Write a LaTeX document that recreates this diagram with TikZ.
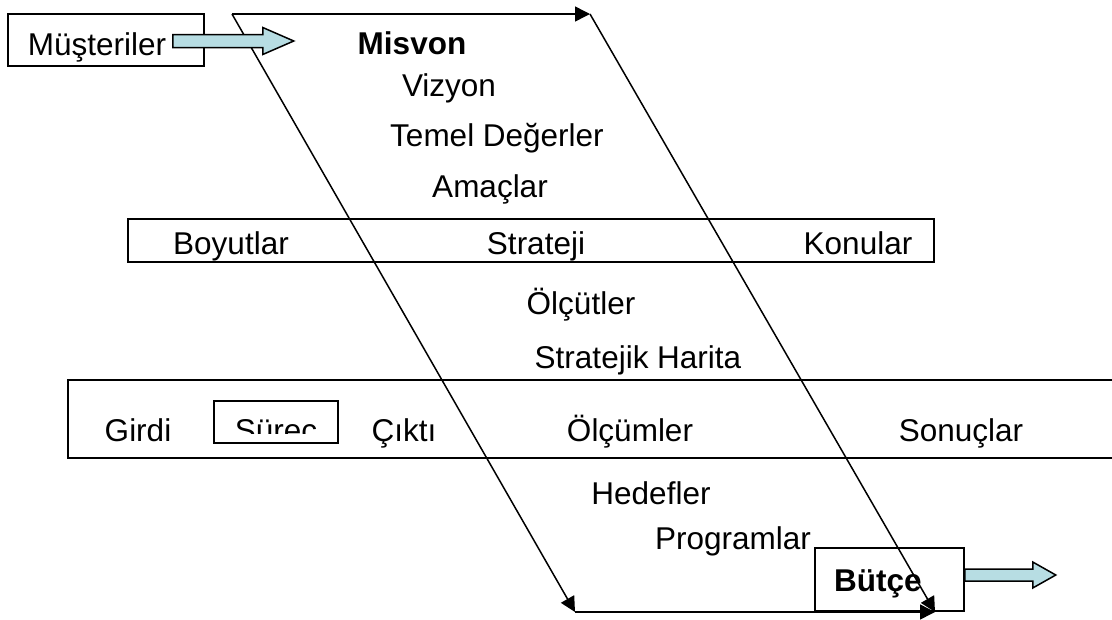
\documentclass[tikz,border=0pt]{standalone}
\usepackage{fontspec}
\setmainfont{Liberation Sans}
\usetikzlibrary{arrows.meta}
\definecolor{fatcyan}{RGB}{183,221,227}
\tikzset{
  frame/.style={draw, line width=1.5pt, inner sep=0pt},
  lbl/.style={anchor=base, inner sep=0pt},
  flow/.style={line width=1.5pt, -{Triangle[length=15pt,width=15pt]}},
  fat/.style={draw, line width=1.5pt, fill=fatcyan},
}
\begin{document}
\begin{tikzpicture}[x=1pt, y=-1pt, font=\fontsize{31.5}{38}\selectfont]
\useasboundingbox (0,0) rectangle (1112,619);
% corners of the slanted frame
\coordinate (tl) at (232,14);
\coordinate (tr) at (590,14);
\coordinate (bl) at (575,612);
\coordinate (br) at (935,612);
% boxes
\node[frame, minimum width=196pt, minimum height=52pt] (musteri) at (106,40) {};
\node[frame, minimum width=806pt, minimum height=43pt] (strbox) at (531,240.5) {};
\node[frame, minimum width=1062pt, minimum height=78pt] (olcbox) at (599,419) {};
\node[frame, minimum width=124pt, minimum height=42pt] (surec) at (276,422) {};
\node[frame, minimum width=149pt, minimum height=63pt] (butce) at (889.5,579.5) {};
% texts
\node[lbl] (tmus) at (97,55) {Müşteriler};
\node[lbl, font=\fontsize{31.5}{38}\selectfont\bfseries] (tmis) at (412,54) {Misvon};
\node[lbl] (tviz) at (449,96) {Vizyon};
\node[lbl] (ttem) at (497,146) {Temel Değerler};
\node[lbl] (tama) at (490,197) {Amaçlar};
\node[lbl] (tboy) at (231,254) {Boyutlar};
\node[lbl] (tstr) at (536,254) {Strateji};
\node[lbl] (tkon) at (858,254) {Konular};
\node[lbl] (tolt) at (581,314) {Ölçütler};
\node[lbl] (thar) at (638,368) {Stratejik Harita};
\node[lbl] (tgir) at (138,441) {Girdi};
\begin{scope}
  \clip (surec.north west) rectangle ([yshift=10pt]surec.south east);
  \node[lbl] (tsur) at (276,441) {Süreç};
\end{scope}
\node[lbl] (tcik) at (404,441) {Çıktı};
\node[lbl] (tolm) at (630,441) {Ölçümler};
\node[lbl] (tson) at (961,441) {Sonuçlar};
\node[lbl] (thed) at (651,504) {Hedefler};
\node[lbl] (tpro) at (733,549) {Programlar};
\node[lbl, font=\fontsize{31.5}{38}\selectfont\bfseries] (tbut) at (878,591) {Bütçe};
% slanted frame
\draw[flow] (tl) -- (tr);
\draw[flow] (tr) -- (br);
\draw[flow] (tl) -- (bl);
\draw[flow] (bl) -- (br);
% fat arrows
\draw[fat] ([xshift=-32pt,yshift=-7.5pt]musteri.east) -- ++(90,0) -- ++(0,7) -- ++(31,-13.5)
  -- ++(-31,-13.5) -- ++(0,7) -- ++(-90,0) -- cycle;
\draw[fat] ([yshift=-1.5pt]butce.east) -- ++(68,0) -- ++(0,7) -- ++(23,-13)
  -- ++(-23,-13) -- ++(0,7) -- ++(-68,0) -- cycle;
\end{tikzpicture}
\end{document}
